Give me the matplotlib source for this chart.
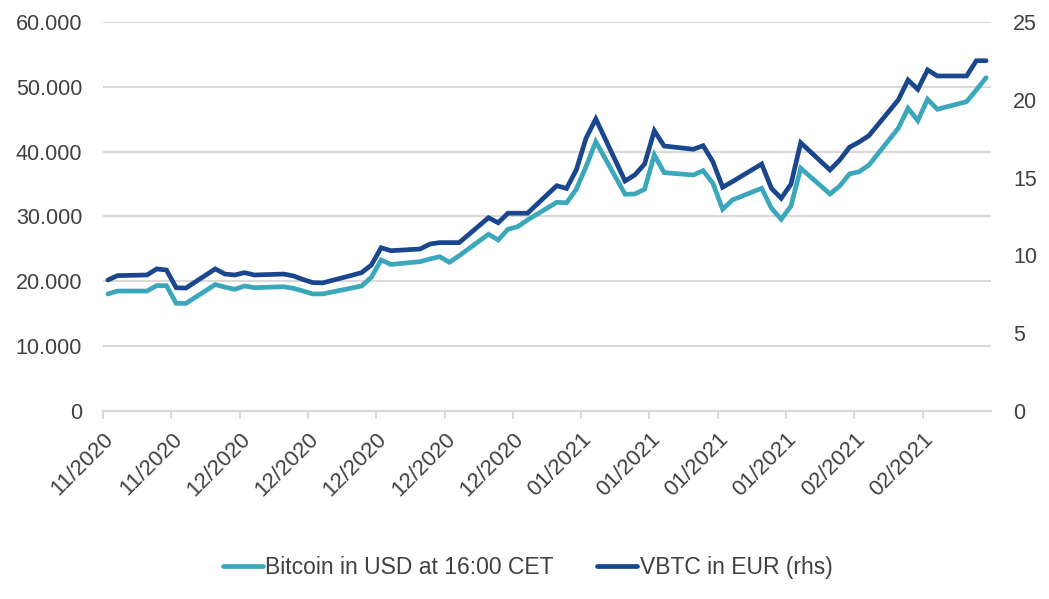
import matplotlib
matplotlib.use("Agg")
from matplotlib import pyplot as plt
import matplotlib.dates as mdates
from matplotlib.ticker import FuncFormatter
import pandas as pd

# weekday observations, Nov 2020 - Feb 2021
dates = ["2020-11-19", "2020-11-20", "2020-11-23", "2020-11-24", "2020-11-25", "2020-11-26", "2020-11-27",
         "2020-11-30", "2020-12-01", "2020-12-02", "2020-12-03", "2020-12-04",
         "2020-12-07", "2020-12-08", "2020-12-09", "2020-12-10", "2020-12-11",
         "2020-12-14", "2020-12-15", "2020-12-16", "2020-12-17", "2020-12-18",
         "2020-12-21", "2020-12-22", "2020-12-23", "2020-12-24", "2020-12-25",
         "2020-12-28", "2020-12-29", "2020-12-30", "2020-12-31", "2021-01-01",
         "2021-01-04", "2021-01-05", "2021-01-06", "2021-01-07", "2021-01-08",
         "2021-01-11", "2021-01-12", "2021-01-13", "2021-01-14", "2021-01-15",
         "2021-01-18", "2021-01-19", "2021-01-20", "2021-01-21", "2021-01-22",
         "2021-01-25", "2021-01-26", "2021-01-27", "2021-01-28", "2021-01-29",
         "2021-02-01", "2021-02-02", "2021-02-03", "2021-02-04", "2021-02-05",
         "2021-02-08", "2021-02-09", "2021-02-10", "2021-02-11", "2021-02-12",
         "2021-02-15", "2021-02-16", "2021-02-17"]

btc_usd = [18050, 18500, 18500, 19330, 19330, 16600, 16600,
           19500, 19100, 18770, 19280, 19020,
           19170, 18920, 18500, 18050, 18050,
           18970, 19280, 20620, 23290, 22600,
           23030, 23450, 23800, 22940, 23950,
           27260, 26380, 28030, 28430, 29460,
           32190, 32100, 34200, 37680, 41540,
           33430, 33470, 34200, 39490, 36760,
           36400, 37070, 35120, 31110, 32550,
           34350, 31270, 29570, 31620, 37440,
           33470, 34710, 36560, 36910, 37950,
           43610, 46690, 44780, 48080, 46540,
           47710, 49510, 51410]

vbtc_eur = [8.42, 8.70, 8.74, 9.13, 9.06, 7.92, 7.90,
            9.13, 8.80, 8.74, 8.89, 8.74,
            8.80, 8.68, 8.45, 8.25, 8.23,
            8.72, 8.89, 9.38, 10.49, 10.30,
            10.41, 10.73, 10.82, 10.82, 10.82,
            12.42, 12.10, 12.71, 12.71, 12.71,
            14.48, 14.30, 15.49, 17.53, 18.77,
            14.78, 15.17, 15.87, 18.01, 17.03,
            16.82, 17.05, 16.02, 14.38, 14.74,
            15.87, 14.31, 13.67, 14.57, 17.24,
            15.49, 16.13, 16.95, 17.29, 17.70,
            19.99, 21.27, 20.67, 21.92, 21.53,
            21.53, 22.51, 22.51]

week_ticks = pd.date_range("2020-11-19", periods=13, freq="7D")

TEAL = "#3ba7ba"
NAVY = "#1a468e"
TXT = "#404040"
GRID = "#d9d9d9"

plt.rcParams["font.family"] = ["Liberation Sans", "DejaVu Sans"]

# points sit in the middle of each day, like a spreadsheet date axis
x = pd.to_datetime(dates) + pd.Timedelta(hours=12)

fig = plt.figure(figsize=(10.49, 5.99), dpi=100)
ax = fig.add_axes([0.0982, 0.3139, 0.8465, 0.6494])
ax2 = ax.twinx()

l1, = ax.plot(x, btc_usd, color=TEAL, lw=3.4, solid_capstyle="round", solid_joinstyle="miter",
              label="Bitcoin in USD at 16:00 CET")
l2, = ax2.plot(x, vbtc_eur, color=NAVY, lw=3.4, solid_capstyle="round", solid_joinstyle="miter",
               label="VBTC in EUR (rhs)")

ax.set_ylim(0, 60000)
ax.set_yticks(range(0, 60001, 10000))
ax.yaxis.set_major_formatter(FuncFormatter(lambda v, p: f"{int(v):,}".replace(",", ".")))
ax2.set_ylim(0, 25)
ax2.set_yticks(range(0, 26, 5))

ax.set_xlim(pd.Timestamp("2020-11-19"), pd.Timestamp("2021-02-18"))
ax.set_xticks(week_ticks)
ax.xaxis.set_major_formatter(mdates.DateFormatter("%m/%Y"))

ax.grid(axis="y", color=GRID, lw=1.5)
ax.set_axisbelow(True)
for a in (ax, ax2):
    for s in ("left", "right", "top"):
        a.spines[s].set_visible(False)
    a.spines["bottom"].set_color(GRID)
    a.spines["bottom"].set_linewidth(1.5)

ax.tick_params(axis="y", length=0, pad=15, labelsize=15.5, labelcolor=TXT)
ax2.tick_params(axis="y", length=0, pad=16, labelsize=15.5, labelcolor=TXT)
ax.tick_params(axis="x", length=6, width=1.5, color=GRID, labelsize=16, labelcolor=TXT, pad=7)
for lab in ax.get_xticklabels():
    lab.set_rotation(45)
    lab.set_ha("right")
    lab.set_rotation_mode("anchor")

fig.legend(handles=[l1, l2], loc="center", bbox_to_anchor=(0.503, 0.052), ncol=2, frameon=False,
           fontsize=16.5, labelcolor=TXT, handlelength=1.75, handletextpad=0.1, columnspacing=1.9)

fig.savefig("out.png", dpi=100)
